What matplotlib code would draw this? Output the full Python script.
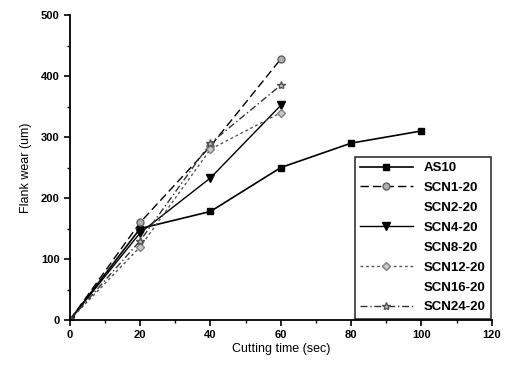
import matplotlib.pyplot as plt
from matplotlib.ticker import MultipleLocator

plt.rcParams['font.family'] = ['Liberation Sans', 'DejaVu Sans']

# cutting time (sec)
time_long = [0, 20, 40, 60, 80, 100]
time_short = [0, 20, 40, 60]

# flank wear (um)
as10 = [0, 150, 178, 250, 290, 310]
scn1 = [0, 160, 285, 428]
scn4 = [0, 143, 233, 352]
scn12 = [0, 120, 280, 340]
scn24 = [0, 130, 290, 385]

x_ticks = [0, 20, 40, 60, 80, 100, 120]
y_ticks = [0, 100, 200, 300, 400, 500]


def main():
    fig = plt.figure(figsize=(5.06, 3.67), dpi=100)
    ax = fig.add_axes([0.138, 0.128, 0.834, 0.831])

    ax.plot(time_long, as10, color='black', lw=1.2, marker='s', ms=4, label='AS10')
    ax.plot(time_short, scn1, color='black', lw=1.0, ls=(0, (6, 3)), marker='o', ms=5,
            mfc='#b0b0b0', mec='#606060', label='SCN1-20')
    ax.plot([], [], color='none', label='SCN2-20')
    ax.plot(time_short, scn4, color='black', lw=1.0, marker='v', ms=6, label='SCN4-20')
    ax.plot([], [], color='none', label='SCN8-20')
    ax.plot(time_short, scn12, color='#555555', lw=1.0, ls=(0, (2, 2)), marker='D', ms=4,
            mfc='#c8c8c8', mec='#808080', label='SCN12-20')
    ax.plot([], [], color='none', label='SCN16-20')
    ax.plot(time_short, scn24, color='#333333', lw=1.0, ls=(0, (5, 2, 1, 2)), marker='*', ms=6,
            mfc='#c0c0c0', mec='#555555', label='SCN24-20')

    ax.set_xlim(0, 120)
    ax.set_ylim(0, 500)
    ax.set_xticks(x_ticks)
    ax.set_yticks(y_ticks)
    ax.xaxis.set_minor_locator(MultipleLocator(10))
    ax.yaxis.set_minor_locator(MultipleLocator(50))
    ax.tick_params(which='major', length=4, width=1.2, labelsize=8)
    ax.tick_params(which='minor', length=2.5, width=1.0)
    for lab in ax.get_xticklabels() + ax.get_yticklabels():
        lab.set_fontweight('bold')

    ax.spines['top'].set_visible(False)
    ax.spines['right'].set_visible(False)
    ax.spines['left'].set_linewidth(1.3)
    ax.spines['bottom'].set_linewidth(1.3)

    ax.set_xlabel('Cutting time (sec)', fontsize=9, labelpad=2)
    ax.set_ylabel('Flank wear (um)', fontsize=9, labelpad=6)

    leg = ax.legend(loc='lower right', prop={'weight': 'bold', 'size': 9.5},
                    frameon=True, fancybox=False, edgecolor='black', borderaxespad=0.1,
                    handlelength=4.0, labelspacing=0.58)
    leg.get_frame().set_linewidth(1.2)

    fig.savefig('out.png', dpi=100)


if __name__ == '__main__':
    main()
